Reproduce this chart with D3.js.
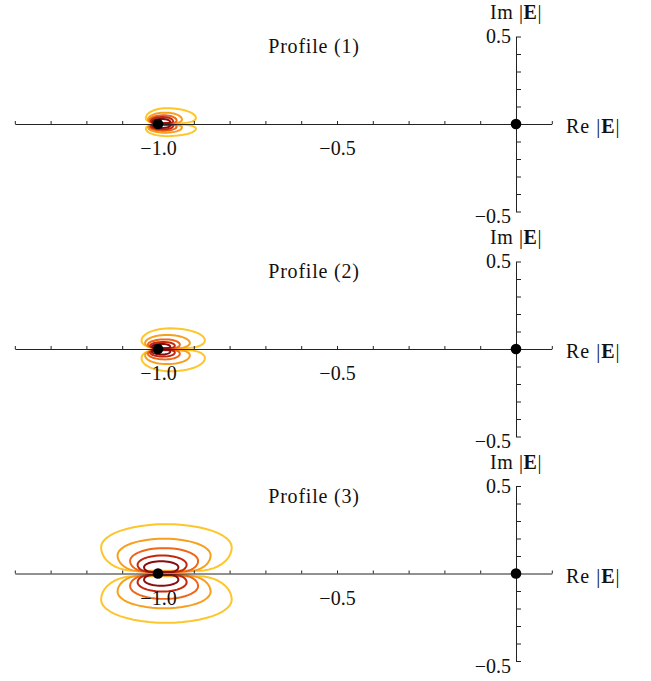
<!DOCTYPE html>
<html>
<head>
<meta charset="utf-8">
<script src="https://cdn.jsdelivr.net/npm/d3@7"></script>
<style>
  body { margin: 0; background: #fff; }
  svg text { font-family: 'Liberation Serif', 'Times New Roman', serif; fill: #111; }
</style>
</head>
<body>
<svg id="chart" width="651" height="681"></svg>
<script>
// titles and tick values
let profileNames = ['Profile (1)', 'Profile (2)', 'Profile (3)'];
let xTicks = [-1.4, -1.3, -1.2, -1.1, -1.0, -0.9, -0.8, -0.7, -0.6, -0.5, -0.4, -0.3, -0.2, -0.1, 0, 0.1];
let xLabels = [-1.0, -0.5];
let yTicks = [-0.5, -0.4, -0.3, -0.2, -0.1, 0, 0.1, 0.2, 0.3, 0.4, 0.5];
let yLabels = [-0.5, 0.5];
let points = [[-1, 0], [0, 0]];

// contour colours, outer -> inner
let levelColors = ['#fdc62c', '#f6a01e', '#ef6619', '#c3270f', '#870e0e'];

// upper loops: [xLeft, xRight, xPeak, yTop, ySide, yBottom]
let loops1 = [
    [-1.034, -0.894, -0.976, 0.090, 0.034, 0.005],
    [-1.028, -0.933, -0.980, 0.065, 0.025, 0.005],
    [-1.024, -0.948, -0.984, 0.050, 0.020, 0.004],
    [-1.020, -0.958, -0.987, 0.040, 0.016, 0.004],
    [-1.016, -0.966, -0.990, 0.029, 0.012, 0.004]
];
let loops2 = [
    [-1.046, -0.869, -0.966, 0.118, 0.048, 0.006],
    [-1.036, -0.911, -0.975, 0.080, 0.034, 0.006],
    [-1.028, -0.939, -0.980, 0.055, 0.025, 0.005],
    [-1.022, -0.953, -0.985, 0.040, 0.019, 0.005],
    [-1.017, -0.966, -0.988, 0.029, 0.014, 0.004]
];
let loops3 = [
    [-1.159, -0.794, -0.978, 0.282, 0.150, 0.016],
    [-1.113, -0.853, -0.983, 0.199, 0.104, 0.012],
    [-1.078, -0.888, -0.983, 0.145, 0.072, 0.010],
    [-1.057, -0.920, -0.988, 0.103, 0.050, 0.009],
    [-1.039, -0.943, -0.991, 0.070, 0.036, 0.008]
];
// how big the lower loop is compared to the upper one
let lowerScale = [0.77, 1.08, 1.0];
let allLoops = [loops1, loops2, loops3];

let svg = d3.select('#chart');
let axisY = [124, 349, 573.5];

var x = d3.scaleLinear().domain([-1.4, 0.1]).range([14.8, 551.8]);

var line = d3.line()
    .x(function(d) { return x(d[0]); })
    .curve(d3.curveLinearClosed);

// outline of one loop: elliptic top, wide rounded corners, flat bottom near the axis
function loopPoints(l, sign) {
    let xl = l[0], xr = l[1], xp = l[2], yt = l[3], ys = l[4], yb = l[5];
    let cl = (xp - xl) * 0.5, cr = (xr - xp) * 0.5;
    let pts = [];
    let n = 24;
    for (let j = 0; j <= n; j++) {
        let t = Math.PI * j / n;
        let rx = t < Math.PI / 2 ? xr - xp : xp - xl;
        pts.push([xp + rx * Math.cos(t), ys + (yt - ys) * Math.sin(t)]);
    }
    for (let j = 1; j <= 10; j++) {
        let t = Math.PI + Math.PI / 2 * j / 10;
        pts.push([xl + cl + cl * Math.cos(t), ys + (ys - yb) * Math.sin(t)]);
    }
    for (let j = 0; j < 10; j++) {
        let t = -Math.PI / 2 + Math.PI / 2 * j / 10;
        pts.push([xr - cr + cr * Math.cos(t), ys + (ys - yb) * Math.sin(t)]);
    }
    return pts.map(function(p) { return [p[0], p[1] * sign]; });
}

profileNames.forEach(function(name, i) {
    let y = d3.scaleLinear().domain([-0.5, 0.5]).range([axisY[i] + 87.5, axisY[i] - 87.5]);
    let g = svg.append('g').attr('class', 'panel' + i);
    line.y(function(d) { return y(d[1]); });

    // contours
    let cg = g.append('g').attr('class', 'contours');
    allLoops[i].forEach(function(l, k) {
        [1, -lowerScale[i]].forEach(function(s) {
            cg.append('path')
                .attr('d', line(loopPoints(l, s)))
                .attr('fill', 'none')
                .attr('stroke', levelColors[k])
                .attr('stroke-width', 2)
                .attr('stroke-linejoin', 'round');
        });
    });

    // x axis
    let xa = g.append('g')
        .attr('transform', 'translate(0,' + axisY[i] + ')')
        .call(d3.axisTop(x).tickValues(xTicks).tickSize(3).tickSizeOuter(0).tickFormat(''));
    let xl = g.append('g')
        .attr('transform', 'translate(0,' + axisY[i] + ')')
        .call(d3.axisBottom(x).tickValues(xLabels).tickSize(0).tickPadding(17).tickFormat(d3.format('.1f')));
    xl.select('.domain').remove();

    // y axis
    let ya = g.append('g')
        .attr('transform', 'translate(' + x(0) + ',0)')
        .call(d3.axisRight(y).tickValues(yTicks).tickSize(5).tickSizeOuter(0).tickFormat(''));
    let yl = g.append('g')
        .attr('transform', 'translate(' + x(0) + ',0)')
        .call(d3.axisLeft(y).tickValues(yLabels).tickSize(0).tickPadding(5).tickFormat(d3.format('.1f')));
    yl.select('.domain').remove();
    yl.select('.tick:first-of-type text').attr('dy', '0.55em');

    [xa, ya].forEach(function(a) {
        a.selectAll('path, line').attr('stroke', '#222').attr('stroke-width', 1);
    });
    [xl, yl].forEach(function(a) {
        a.selectAll('text').attr('font-size', 20).attr('fill', '#111');
    });

    // points
    g.selectAll('circle').data(points).enter().append('circle')
        .attr('cx', function(d) { return x(d[0]); })
        .attr('cy', function(d) { return y(d[1]); })
        .attr('r', 5.3)
        .attr('fill', '#000');

    // labels
    g.append('text')
        .attr('x', 314).attr('y', axisY[i] - 71)
        .attr('text-anchor', 'middle')
        .attr('font-size', 20)
        .attr('letter-spacing', 0.8)
        .text(name);

    let im = g.append('text')
        .attr('x', 516).attr('y', axisY[i] - 105)
        .attr('text-anchor', 'middle')
        .attr('font-size', 20)
        .attr('letter-spacing', 0.6);
    im.append('tspan').text('Im |');
    im.append('tspan').attr('font-weight', 'bold').text('E');
    im.append('tspan').text('|');

    let re = g.append('text')
        .attr('x', 566).attr('y', axisY[i] + 9)
        .attr('font-size', 20)
        .attr('letter-spacing', 1);
    re.append('tspan').text('Re |');
    re.append('tspan').attr('font-weight', 'bold').text('E');
    re.append('tspan').text('|');
});
</script>
</body>
</html>
